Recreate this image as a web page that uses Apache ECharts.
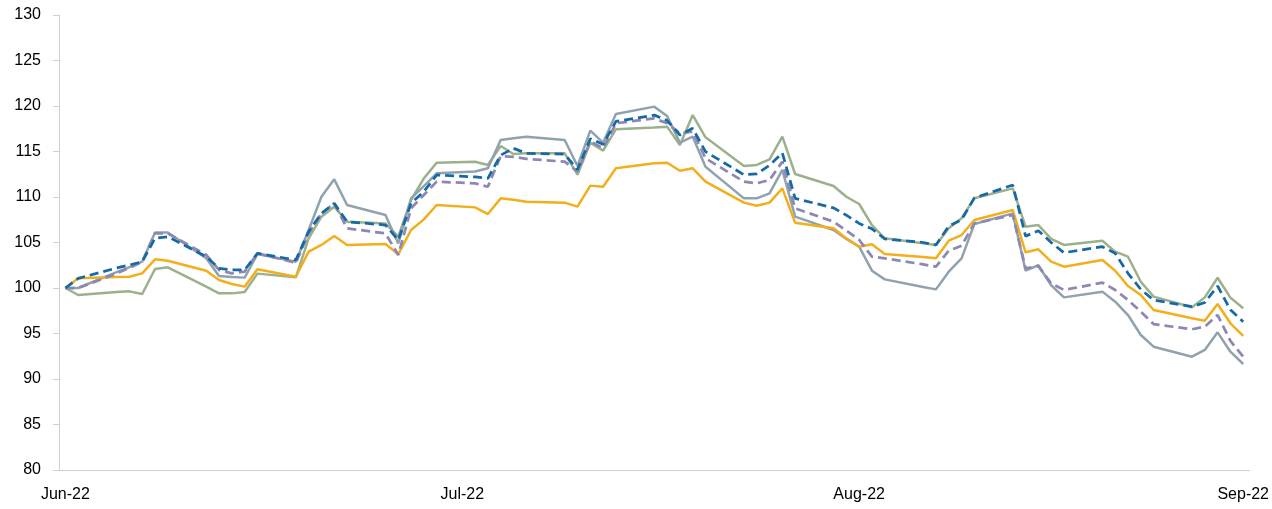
<!DOCTYPE html>
<html>
<head>
<meta charset="utf-8">
<script src="https://cdn.jsdelivr.net/npm/echarts@6/dist/echarts.min.js"></script>
<style>
html,body{margin:0;padding:0;background:#fff;}
#c{width:1272px;height:509px;}
</style>
</head>
<body>
<div id="c"></div>
<script>
// Trading dates (Sun–Thu sessions)
const tradingDates = [
 '2022-06-01','2022-06-02','2022-06-05','2022-06-06','2022-06-07','2022-06-08','2022-06-09',
 '2022-06-12','2022-06-13','2022-06-14','2022-06-15','2022-06-16',
 '2022-06-19','2022-06-20','2022-06-21','2022-06-22','2022-06-23',
 '2022-06-26','2022-06-27','2022-06-28','2022-06-29','2022-06-30',
 '2022-07-03','2022-07-04','2022-07-05','2022-07-06','2022-07-07',
 '2022-07-10','2022-07-11','2022-07-12','2022-07-13','2022-07-14',
 '2022-07-17','2022-07-18','2022-07-19','2022-07-20','2022-07-21',
 '2022-07-24','2022-07-25','2022-07-26','2022-07-27','2022-07-28',
 '2022-07-31','2022-08-01','2022-08-02','2022-08-03','2022-08-04',
 '2022-08-07','2022-08-08','2022-08-09','2022-08-10','2022-08-11',
 '2022-08-14','2022-08-15','2022-08-16','2022-08-17','2022-08-18',
 '2022-08-21','2022-08-22','2022-08-23','2022-08-24','2022-08-25',
 '2022-08-28','2022-08-29','2022-08-30','2022-08-31','2022-09-01'
];
// Dates that carry an axis label
const labelDates = ['2022-06-01','2022-07-02','2022-08-02','2022-09-01'];
const monthNames = ['Jan','Feb','Mar','Apr','May','Jun','Jul','Aug','Sep','Oct','Nov','Dec'];

const seriesOrange = [100,101.06,101.2,101.24,101.61,103.15,103.0,
 101.9,100.88,100.44,100.15,102.05,
 101.24,103.99,104.73,105.71,104.73,
 104.84,103.7,106.37,107.54,109.12,
 108.86,108.13,109.85,109.7,109.49,
 109.38,108.94,111.25,111.13,113.15,
 113.7,113.77,112.89,113.15,111.69,
 109.38,109.04,109.38,110.95,107.18,
 106.56,105.45,104.54,104.8,103.74,
 103.4,103.26,105.2,105.82,107.47,
 108.57,103.92,104.25,102.9,102.34,
 103.08,101.9,100.22,99.23,97.58,
 96.67,96.41,98.24,96.12,94.73];

const seriesGreen = [100,99.23,99.55,99.63,99.34,102.09,102.27,
 100.15,99.41,99.41,99.56,101.58,
 101.17,105.46,107.84,108.94,107.29,
 107.1,105.64,109.67,112.05,113.77,
 113.88,113.52,115.6,114.73,114.8,
 114.8,112.45,115.97,115.1,117.44,
 117.65,117.73,115.71,119.01,116.56,
 113.41,113.52,114.14,116.63,112.53,
 111.21,110.03,109.23,106.92,105.46,
 104.91,104.73,106.56,107.66,109.86,
 110.95,106.74,106.92,105.4,104.73,
 105.2,103.99,103.44,100.69,99.05,
 97.88,98.97,101.13,98.94,97.77];

const seriesGrey = [100,100,101.75,102.3,102.89,106.1,106.1,
 103.26,101.32,101.2,101.14,103.72,
 102.89,106.37,110.03,111.94,109.12,
 108.02,104.9,109.85,111.2,112.6,
 112.8,113.15,116.26,116.45,116.63,
 116.26,113.41,117.3,115.97,119.12,
 119.93,118.9,115.97,116.63,113.33,
 109.85,109.85,110.4,112.97,107.84,
 106.37,105.4,104.54,101.9,100.95,
 100.1,99.85,101.79,103.26,107.03,
 108.2,101.9,102.5,100.3,98.97,
 99.6,98.5,97.03,94.84,93.55,
 92.45,93.19,95.13,93.0,91.65];

const seriesBlueDash = [100,101.06,102.2,102.53,102.89,105.46,105.64,
 103.45,102.16,101.98,101.98,103.81,
 103.08,106.19,108.2,109.3,107.29,
 106.92,105.27,109.3,110.6,112.42,
 112.2,112.05,114.6,115.35,114.8,
 114.7,113.0,116.4,115.8,118.3,
 119.0,118.4,116.81,117.55,114.98,
 112.45,112.53,113.48,114.84,109.85,
 108.8,108.0,107.1,106.5,105.4,
 105.0,104.73,106.8,107.5,109.9,
 111.32,105.7,106.3,105.0,103.88,
 104.54,103.81,101.61,99.85,98.68,
 97.95,98.4,100.22,97.6,96.3];

const seriesPurpleDash = [100,100,101.6,102.2,102.89,106.0,106.0,
 103.63,101.98,101.61,101.8,103.81,
 102.78,106.0,108.2,109.3,106.56,
 106.0,103.63,108.75,110.22,111.69,
 111.5,111.13,114.5,114.4,114.2,
 113.88,112.78,116.1,115.35,118.1,
 118.64,118.1,117.0,117.18,114.25,
 111.69,111.5,111.87,113.88,108.75,
 107.29,106.3,105.3,103.44,103.26,
 102.6,102.34,104.1,104.65,107.1,
 108.02,102.16,102.4,100.5,99.78,
 100.59,99.78,98.68,97.4,96.04,
 95.46,95.75,97.03,94.18,92.45];

const yTicks = {min: 80, max: 130, interval: 5};

// calendar-day category axis spanning the trading range
function fmt(d){const m=d.getUTCMonth()+1, dd=d.getUTCDate();return d.getUTCFullYear()+'-'+(m<10?'0':'')+m+'-'+(dd<10?'0':'')+dd;}
const days = [];
for (let t = Date.UTC(2022,5,1); t <= Date.UTC(2022,8,1); t += 86400000) days.push(fmt(new Date(t)));

function pairs(vals){ return tradingDates.map((d,i)=>[days.indexOf(d), vals[i]]); }

const chart = echarts.init(document.getElementById('c'), null, {renderer:'canvas'});
const font = "'Liberation Sans', Arial, sans-serif";
function mk(name, vals, color, dashed){
  return {
    name, type:'line', data: pairs(vals), symbol:'none', smooth:false,
    lineStyle:{color, width: dashed ? 2.75 : 2.5, type: dashed ? [9,5] : 'solid'},
    itemStyle:{color}, animation:false, z: dashed ? 3 : 2
  };
}
chart.setOption({
  animation:false,
  backgroundColor:'#ffffff',
  grid:{left:59, right:20, top:15, bottom:39, containLabel:false},
  xAxis:{
    type:'category', data: days, boundaryGap:true,
    axisLine:{show:true, lineStyle:{color:'#d0d0d0', width:1}},
    axisTick:{show:false},
    splitLine:{show:false},
    axisLabel:{
      interval:(idx, val)=> labelDates.indexOf(val) >= 0,
      formatter:(val)=>{const p=val.split('-');return monthNames[+p[1]-1]+'-'+p[0].slice(2);},
      color:'#000', fontFamily:font, fontSize:16, margin:17
    }
  },
  yAxis:{
    type:'value', min:yTicks.min, max:yTicks.max, interval:yTicks.interval,
    axisLine:{show:true, lineStyle:{color:'#d0d0d0', width:1}},
    axisTick:{show:true, inside:false, length:6, lineStyle:{color:'#d0d0d0'}},
    splitLine:{show:false},
    axisLabel:{color:'#000', fontFamily:font, fontSize:16, margin:18}
  },
  series:[
    mk('Green', seriesGreen, '#9cb18b', false),
    mk('Grey', seriesGrey, '#8fa2ae', false),
    mk('Orange', seriesOrange, '#f2ae1b', false),
    mk('Purple', seriesPurpleDash, '#8c88b3', true),
    mk('Blue', seriesBlueDash, '#156aa6', true)
  ]
});
</script>
</body>
</html>
